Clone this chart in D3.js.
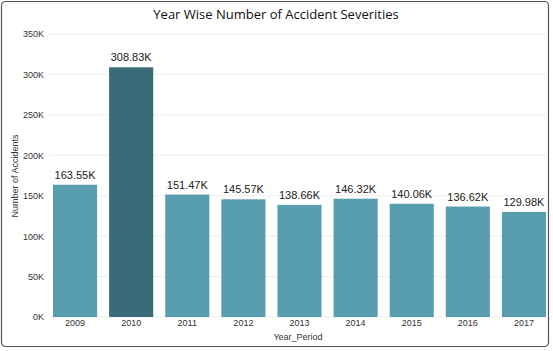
<!DOCTYPE html>
<html>
<head>
<meta charset="utf-8">
<script src="https://cdn.jsdelivr.net/npm/d3@7"></script>
<style>
    body { margin: 0; background: #fff; }
    svg { display: block; }
</style>
</head>
<body>
<svg id="chart" width="553" height="351"></svg>
<script>
    // Data
    const years = ['2009', '2010', '2011', '2012', '2013', '2014', '2015', '2016', '2017'];
    const accidents = [163550, 308830, 151470, 145570, 138660, 146320, 140060, 136620, 129980];
    const yTicks = [0, 50000, 100000, 150000, 200000, 250000, 300000, 350000];
    const highlightYear = '2010';

    // Constants
    const COLOR_BAR = '#589EAF';
    const COLOR_HIGHLIGHT = '#3A6B78';
    const FONT_AXIS = '"Liberation Sans", Arial, sans-serif';

    const svg = d3.select('#chart');

    // Frame
    svg.append('rect')
        .attr('x', 1.5).attr('y', 1.5)
        .attr('width', 547).attr('height', 345)
        .attr('rx', 4)
        .attr('fill', 'white')
        .attr('stroke', '#555')
        .attr('stroke-width', 1.2);

    // Title
    svg.append('text')
        .attr('x', 276).attr('y', 19)
        .attr('text-anchor', 'middle')
        .attr('font-family', '"Open Sans", sans-serif')
        .attr('font-size', 13)
        .attr('fill', '#111')
        .text('Year Wise Number of Accident Severities');

    // Scales
    const x = d3.scaleBand()
        .domain(years)
        .range([53, 546])
        .paddingInner(0.214)
        .paddingOuter(0);

    const y = d3.scaleLinear()
        .domain([0, 350000])
        .range([317, 34]);

    // Gridlines
    svg.append('g')
        .selectAll('line')
        .data(yTicks)
        .enter().append('line')
            .attr('x1', 50).attr('x2', 547)
            .attr('y1', (d) => y(d)).attr('y2', (d) => y(d))
            .attr('stroke', '#EEEEEE')
            .attr('stroke-width', 1);

    // Y axis
    const yAxis = svg.append('g')
        .attr('transform', 'translate(44,0)')
        .call(d3.axisLeft(y).tickValues(yTicks).tickSize(0).tickPadding(0)
            .tickFormat((d) => (d / 1000) + 'K'));
    yAxis.select('.domain').remove();
    yAxis.selectAll('text')
        .attr('font-family', FONT_AXIS)
        .attr('font-size', 9)
        .attr('fill', '#333');

    svg.append('text')
        .attr('transform', 'translate(18,176) rotate(-90)')
        .attr('text-anchor', 'middle')
        .attr('font-family', FONT_AXIS)
        .attr('font-size', 9)
        .attr('fill', '#333')
        .text('Number of Accidents');

    // Bars
    svg.append('g')
        .selectAll('rect')
        .data(years)
        .enter().append('rect')
            .attr('x', (d) => x(d))
            .attr('y', (d, i) => y(accidents[i]))
            .attr('width', x.bandwidth())
            .attr('height', (d, i) => y(0) - y(accidents[i]))
            .attr('fill', (d) => d === highlightYear ? COLOR_HIGHLIGHT : COLOR_BAR);

    // Value labels
    svg.append('g')
        .selectAll('text')
        .data(years)
        .enter().append('text')
            .attr('x', (d) => x(d) + x.bandwidth() / 2)
            .attr('y', (d, i) => y(accidents[i]) - 6)
            .attr('text-anchor', 'middle')
            .attr('font-family', FONT_AXIS)
            .attr('font-size', 11)
            .attr('fill', '#222')
            .text((d, i) => (accidents[i] / 1000).toFixed(2) + 'K');

    // X axis
    const xAxis = svg.append('g')
        .attr('transform', 'translate(0,320)')
        .call(d3.axisBottom(x).tickSize(0).tickPadding(0));
    xAxis.select('.domain').remove();
    xAxis.selectAll('text')
        .attr('font-family', FONT_AXIS)
        .attr('font-size', 9)
        .attr('fill', '#333');

    svg.append('text')
        .attr('x', 298).attr('y', 340)
        .attr('text-anchor', 'middle')
        .attr('font-family', FONT_AXIS)
        .attr('font-size', 9)
        .attr('fill', '#333')
        .text('Year_Period');
</script>
</body>
</html>
